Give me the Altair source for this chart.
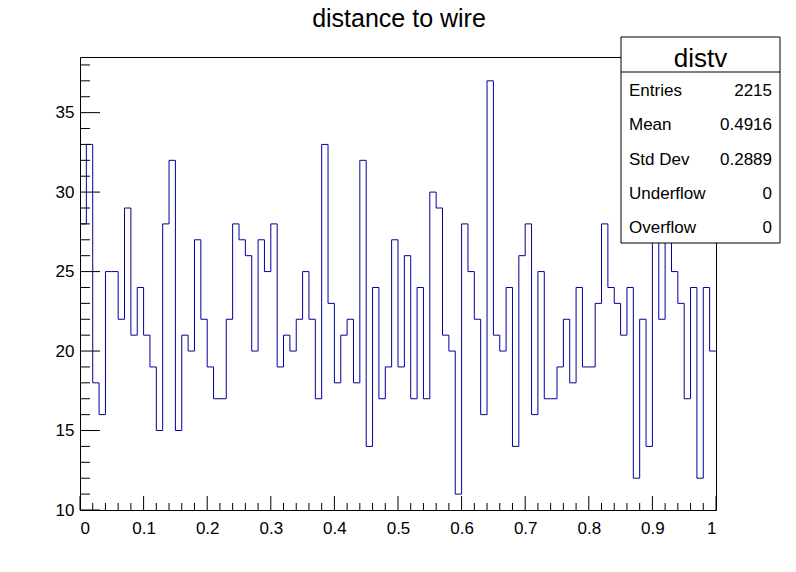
import altair as alt
import pandas as pd
import numpy as np

# Histogram "distv": 100 bins on [0, 1]
counts = [28, 33, 18, 16, 25, 25, 22, 29, 21, 24,
          21, 19, 15, 28, 32, 15, 21, 20, 27, 22,
          19, 17, 17, 22, 28, 27, 26, 20, 27, 25,
          28, 19, 21, 20, 22, 25, 22, 17, 33, 23,
          18, 21, 22, 18, 32, 14, 24, 17, 19, 27,
          19, 26, 17, 24, 17, 30, 29, 21, 20, 11,
          28, 25, 22, 16, 37, 21, 20, 24, 14, 26,
          28, 16, 25, 17, 17, 19, 22, 18, 24, 19,
          19, 23, 28, 24, 23, 21, 24, 12, 22, 14,
          28, 22, 27, 25, 23, 17, 24, 12, 24, 20]
x_min, x_max, n_bins = 0.0, 1.0, 100

x_major = [0, 0.1, 0.2, 0.3, 0.4, 0.5, 0.6, 0.7, 0.8, 0.9, 1.0]
x_minor = [round(0.02 * i, 2) for i in range(51) if i % 5 != 0]
y_major = [10, 15, 20, 25, 30, 35]
y_minor = [v for v in range(10, 39) if v % 5 != 0]

chart_title = "distance to wire"
stat_title = "distv"
stat_labels = ["Entries", "Mean", "Std Dev", "Underflow", "Overflow"]
stat_values = ["2215", "0.4916", "0.2889", "0", "0"]

FONT = "Liberation Sans"
W, H = 636, 453
Y_DOM = [10, 38.5]

edges = np.linspace(x_min, x_max, n_bins + 1)
hist_df = pd.DataFrame({"x": edges, "y": counts + [counts[-1]]})

xs = alt.Scale(domain=[x_min, x_max], nice=False, zero=False)
ys = alt.Scale(domain=Y_DOM, nice=False, zero=False)

hist = alt.Chart(hist_df).mark_line(
    interpolate="step-after", color="#000099", strokeWidth=1, clip=True
).encode(
    x=alt.X("x:Q", scale=xs, axis=alt.Axis(
        values=x_major, format="~g", ticks=False, tickSize=0, domain=False,
        grid=False, labelPadding=10, title=None)),
    y=alt.Y("y:Q", scale=ys, axis=alt.Axis(
        values=y_major, ticks=False, tickSize=0, domain=False, grid=False,
        labelPadding=6, title=None)),
)

def yticks(vals, length):
    return alt.Chart(pd.DataFrame({"v": vals})).mark_rule(
        color="black", strokeWidth=1).encode(
        y=alt.Y("v:Q", scale=ys), x=alt.value(0), x2=alt.value(length))

def xticks(vals, length):
    return alt.Chart(pd.DataFrame({"v": vals})).mark_rule(
        color="black", strokeWidth=1).encode(
        x=alt.X("v:Q", scale=xs), y=alt.value(H), y2=alt.value(H - length))

one = alt.Data(values=[{"a": 1}])

title_mark = alt.Chart(one).mark_text(
    text=chart_title, font=FONT, fontSize=25, align="center",
    baseline="alphabetic", color="black").encode(
    x=alt.value(W / 2 + 1), y=alt.value(-30))

# stats box (pixel coords relative to plot area)
bx0, bx1, by0, by1 = 541, 700, -20, 186
box = alt.Chart(one).mark_rect(fill="white", stroke="black", strokeWidth=1).encode(
    x=alt.value(bx0), x2=alt.value(bx1), y=alt.value(by0), y2=alt.value(by1))
sep = alt.Chart(one).mark_rule(color="black", strokeWidth=1).encode(
    x=alt.value(bx0), x2=alt.value(bx1), y=alt.value(15))
ttl = alt.Chart(one).mark_text(
    text=stat_title, font=FONT, fontSize=26, align="center", baseline="alphabetic",
    color="black").encode(x=alt.value((bx0 + bx1) / 2), y=alt.value(10))

layers = [hist, yticks(y_minor, 10), yticks(y_major, 20),
          xticks(x_minor, 7), xticks(x_major, 14), title_mark, box, sep, ttl]
for i, (lab, val) in enumerate(zip(stat_labels, stat_values)):
    yb = 39 + 34.3 * i
    layers.append(alt.Chart(one).mark_text(
        text=lab, font=FONT, fontSize=17, align="left", baseline="alphabetic",
        color="black").encode(x=alt.value(bx0 + 8), y=alt.value(yb)))
    layers.append(alt.Chart(one).mark_text(
        text=val, font=FONT, fontSize=17, align="right", baseline="alphabetic",
        color="black").encode(x=alt.value(bx1 - 8), y=alt.value(yb)))

chart = alt.layer(*layers).properties(
    width=W, height=H,
    autosize=alt.AutoSizeParams(type="none"),
    padding={"left": 80, "top": 57, "right": 80, "bottom": 62},
    background="white",
).configure_view(stroke="black", strokeWidth=1).configure_axis(
    labelFont=FONT, labelFontSize=17, labelColor="black"
)

chart.save("out.html", embed_options={"renderer": "svg", "actions": False})
